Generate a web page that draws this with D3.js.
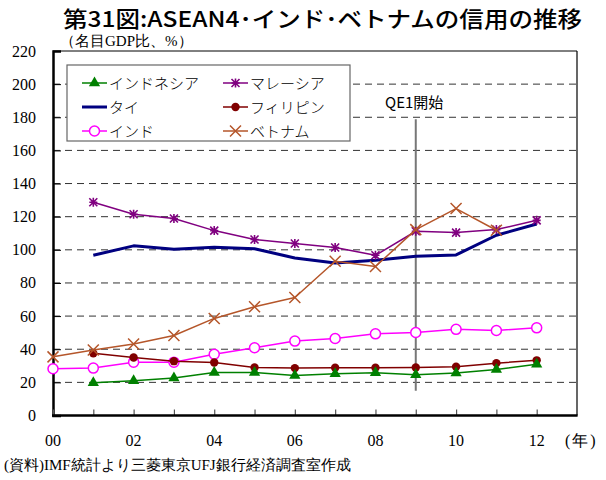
<!DOCTYPE html>
<html><head><meta charset="utf-8">
<script src="https://cdn.jsdelivr.net/npm/d3@7"></script>
<style>body{margin:0;background:#fff;} svg{display:block;}
.serif{font-family:"Liberation Serif","Times New Roman","DejaVu Serif",serif;}
.sans{font-family:"Noto Sans CJK JP","Noto Sans",sans-serif;}
</style>
</head><body>
<svg id="c" width="606" height="480"></svg>
<script>
const years = [2000,2001,2002,2003,2004,2005,2006,2007,2008,2009,2010,2011,2012];
const indonesia   = [null,19.8,21,22.6,26,26,24.2,25.2,25.8,24.6,25.6,27.8,30.9];
const malaysia    = [null,128.7,121.5,118.9,111.6,106.2,103.8,101.4,96.7,111.2,110.4,112.2,117.8];
const thailand    = [null,96.7,102.4,100.4,101.6,100.6,95.1,92.1,93.7,96.1,96.9,108.8,115.6];
const philippines = [null,37.5,35,32.8,32,29,28.6,28.8,28.8,29,29.4,31.6,33.3];
const india       = [28.2,28.6,32.2,32.2,37,40.9,44.9,46.5,49.3,50.1,52,51.3,52.9];
const vietnam     = [35.4,39.5,43.1,48.3,58.6,65.6,71.2,93.1,89.9,112.2,124.9,111.8,null];
const yTicks = [0,20,40,60,80,100,120,140,160,180,200,220];
const xLabels = ["00","02","04","06","08","10","12"];
const xLabelYears = [2000,2002,2004,2006,2008,2010,2012];
const qeYear = 2009;

const series = [
  {name:"インドネシア", values:indonesia, color:"#008000", width:1.5, marker:"tri", col:0, row:0},
  {name:"マレーシア", values:malaysia, color:"#800080", width:1.5, marker:"star", col:1, row:0},
  {name:"タイ", values:thailand, color:"#000080", width:3, marker:"none", col:0, row:1},
  {name:"フィリピン", values:philippines, color:"#800000", width:1.5, marker:"dot", col:1, row:1},
  {name:"インド", values:india, color:"#ff00ff", width:1.5, marker:"circle", col:0, row:2},
  {name:"ベトナム", values:vietnam, color:"#b5562a", width:1.5, marker:"x", col:1, row:2}
];

const svg = d3.select("#c");
const L=53, R=577, T=51, B=415.5;
const x = d3.scaleLinear().domain([2000,2013]).range([L,R]);
const y = d3.scaleLinear().domain([0,220]).range([B,T]);

// title
svg.append("text").attr("class","sans").attr("x",63).attr("y",27)
  .attr("font-size",22).attr("font-weight","500").attr("textLength",519).attr("lengthAdjust","spacingAndGlyphs")
  .text("第31図:ASEAN4･インド･ベトナムの信用の推移");
svg.append("text").attr("class","serif").attr("x",60).attr("y",46).attr("font-size",15)
  .text("（名目GDP比、%）");

// gridlines
svg.append("g").selectAll("line").data(yTicks.filter(d=>d>0&&d<220)).join("line")
  .attr("x1",L).attr("x2",R).attr("y1",d=>y(d)).attr("y2",d=>y(d))
  .attr("stroke","#333").attr("stroke-width",1).attr("stroke-dasharray","7,5");

// frame
svg.append("line").attr("x1",L).attr("x2",R).attr("y1",T).attr("y2",T).attr("stroke","#000").attr("stroke-width",1);
svg.append("line").attr("x1",R).attr("x2",R).attr("y1",T).attr("y2",B).attr("stroke","#000").attr("stroke-width",1.2);

// y axis
const yAxis = d3.axisRight(y).tickValues(yTicks).tickSize(8).tickFormat("");
const gy = svg.append("g").attr("transform",`translate(${L},0)`).call(yAxis);
gy.select(".domain").attr("stroke","#000").attr("stroke-width",2.5);
gy.selectAll(".tick line").attr("stroke","#000").attr("stroke-width",1);
svg.append("g").selectAll("text").data(yTicks).join("text").attr("class","serif")
  .attr("x",36).attr("y",d=>y(d)+5.5).attr("text-anchor","end")
  .attr("font-size",16).text(d=>d);

// x axis
const xAxis = d3.axisTop(x).tickValues(years).tickSize(6).tickFormat("");
const gx = svg.append("g").attr("transform",`translate(0,${B})`).call(xAxis);
gx.select(".domain").remove();
gx.selectAll(".tick line").attr("stroke","#555").attr("stroke-width",1.2);
svg.append("line").attr("x1",L-1).attr("x2",R+0.6).attr("y1",B).attr("y2",B).attr("stroke","#000").attr("stroke-width",2.5);
svg.append("g").selectAll("text").data(xLabelYears).join("text").attr("class","serif")
  .attr("x",d=>x(d)).attr("y",446).attr("text-anchor","middle")
  .attr("font-size",16).text((d,i)=>xLabels[i]);
svg.append("text").attr("class","serif").attr("x",565).attr("y",446).attr("font-size",16)
  .attr("letter-spacing","2px").text("(年)");

// QE1 line
svg.append("line").attr("x1",x(qeYear)).attr("x2",x(qeYear)).attr("y1",y(180)+2).attr("y2",y(15))
  .attr("stroke","#777").attr("stroke-width",2);
svg.append("text").attr("class","sans").attr("x",385).attr("y",108).attr("font-size",15).text("QE1開始");

function drawMarker(g, type, color, cx, cy){
  if(type==="tri"){
    g.append("path").attr("d",d3.symbol(d3.symbolTriangle,55)()).attr("transform",`translate(${cx},${cy})`).attr("fill",color);
  } else if(type==="dot"){
    g.append("circle").attr("cx",cx).attr("cy",cy).attr("r",4.2).attr("fill",color);
  } else if(type==="circle"){
    g.append("circle").attr("cx",cx).attr("cy",cy).attr("r",5).attr("fill","#fff").attr("stroke",color).attr("stroke-width",1.5);
  } else if(type==="x"){
    const s=5.5;
    g.append("path").attr("d",`M${cx-s},${cy-s}L${cx+s},${cy+s}M${cx-s},${cy+s}L${cx+s},${cy-s}`).attr("stroke",color).attr("stroke-width",1.5);
  } else if(type==="star"){
    const s=4;
    g.append("path").attr("d",`M${cx-s},${cy-s}L${cx+s},${cy+s}M${cx-s},${cy+s}L${cx+s},${cy-s}M${cx},${cy-s-0.5}L${cx},${cy+s+0.5}M${cx-s},${cy}L${cx+s},${cy}`).attr("stroke",color).attr("stroke-width",1.6);
  }
}

const line = d3.line().defined(d=>d[1]!=null).x(d=>x(d[0])).y(d=>y(d[1]));
const order = [2,4,1,3,0,5];
order.forEach(i=>{
  const s = series[i];
  const pts = years.map((yr,j)=>[yr,s.values[j]]);
  const g = svg.append("g");
  g.append("path").datum(pts).attr("d",line).attr("fill","none").attr("stroke",s.color).attr("stroke-width",s.width).attr("stroke-linejoin","round");
  pts.filter(p=>p[1]!=null).forEach(p=>drawMarker(g,s.marker,s.color,x(p[0]),y(p[1])));
});

// legend
const lg = svg.append("g");
lg.append("rect").attr("x",67).attr("y",65).attr("width",283).attr("height",76).attr("fill","#fff").attr("stroke","#666").attr("stroke-width",1.2);
const colX=[82,223], rowY=[83,107,131];
series.forEach(s=>{
  const x0=colX[s.col], yy=rowY[s.row];
  lg.append("line").attr("x1",x0).attr("x2",x0+25).attr("y1",yy).attr("y2",yy).attr("stroke",s.color).attr("stroke-width",s.width);
  drawMarker(lg,s.marker,s.color,x0+12.5,yy);
  lg.append("text").attr("class","sans").attr("x",x0+27).attr("y",yy+5.5).attr("font-size",15).attr("font-weight","300").text(s.name);
});

// footer
svg.append("text").attr("class","serif").attr("x",4).attr("y",470).attr("font-size",15)
  .text("(資料)IMF統計より三菱東京UFJ銀行経済調査室作成");
</script>
</body></html>
